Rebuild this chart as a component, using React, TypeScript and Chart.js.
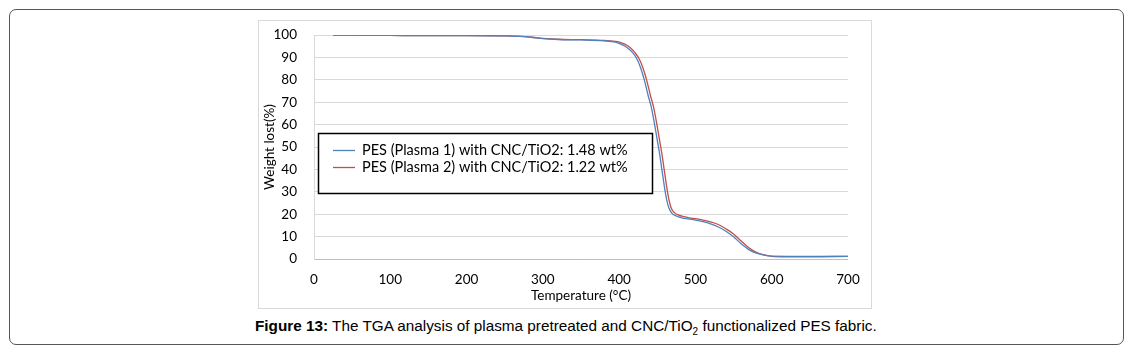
import React, { useEffect, useRef } from "react";
import { Chart, registerables } from "chart.js";

Chart.register(...registerables);

const seriesLabels = [
  "PES (Plasma 1) with CNC/TiO2: 1.48 wt%",
  "PES (Plasma 2) with CNC/TiO2: 1.22 wt%",
];
const seriesColors = ["#4F81BD", "#C0504D"];

const tempsP1 = [25, 50, 100, 150, 200, 250, 270, 285, 300, 320, 350, 380, 395, 405, 412, 418, 423, 428, 433, 438, 442, 446, 450, 453, 456, 459, 462, 465, 469, 475, 482, 490, 500, 510, 520, 530, 540, 550, 560, 570, 580, 590, 600, 650, 700];
const weightP1 = [100, 99.9, 99.8, 99.7, 99.7, 99.6, 99.4, 99.0, 98.4, 98.0, 97.8, 97.4, 96.8, 95.5, 94, 92, 89.5, 85.5, 80, 73, 68, 61, 53, 47, 40, 33, 27, 23, 20.5, 19.2, 18.4, 17.9, 17.4, 16.7, 15.7, 14.3, 12.4, 9.9, 6.8, 4.2, 2.6, 1.7, 1.3, 1.2, 1.2];

const tempsP2 = [25, 50, 100, 150, 200, 250, 270, 285, 300, 320, 350, 380, 398, 408, 415, 421, 426, 431, 436, 441, 445, 449, 453, 456, 459, 462, 465, 468, 472, 478, 485, 492, 500, 510, 520, 530, 540, 550, 560, 570, 580, 590, 600, 620, 650, 700];
const weightP2 = [100, 99.9, 99.8, 99.7, 99.7, 99.6, 99.4, 99.0, 98.5, 98.1, 97.9, 97.6, 97.0, 95.8, 94.2, 92, 89.5, 85.5, 80, 73, 68, 61, 53, 47, 40, 33, 27, 23, 20.8, 19.6, 18.9, 18.4, 18.0, 17.4, 16.6, 15.4, 13.5, 11.2, 8.0, 5.0, 3.0, 1.8, 1.2, 1.0, 1.0, 1.2];

const xTitle = "Temperature (°C)";
const yTitle = "Weight lost(%)";

const FONT = "Lato, 'Open Sans', sans-serif";

const legendPlugin = {
  id: "boxLegend",
  afterDatasetsDraw(chart: any) {
    const ctx = chart.ctx;
    const x0 = 59.5, y0 = 112.5, w = 334, h = 60;
    ctx.save();
    ctx.fillStyle = "#fff";
    ctx.fillRect(x0, y0, w, h);
    ctx.strokeStyle = "#000";
    ctx.lineWidth = 1.5;
    ctx.strokeRect(x0, y0, w, h);
    ctx.font = "14.5px " + FONT;
    ctx.textBaseline = "middle";
    chart.data.datasets.forEach((ds: any, i: number) => {
      const y = y0 + 17 + i * 17;
      ctx.strokeStyle = ds.borderColor;
      ctx.lineWidth = 1.3;
      ctx.beginPath();
      ctx.moveTo(74, y);
      ctx.lineTo(96, y);
      ctx.stroke();
      ctx.fillStyle = "#000";
      ctx.fillText(ds.label, 103, y);
    });
    ctx.restore();
  },
};

export default function App() {
  const ref = useRef<HTMLCanvasElement | null>(null);

  useEffect(() => {
    if (!ref.current) return;
    const chart = new Chart(ref.current, {
      type: "line",
      data: {
        datasets: [
          {
            label: seriesLabels[0],
            data: tempsP1.map((t, i) => ({ x: t, y: weightP1[i] })),
            borderColor: seriesColors[0],
            borderWidth: 1.3,
            pointRadius: 0,
            cubicInterpolationMode: "monotone",
          },
          {
            label: seriesLabels[1],
            data: tempsP2.map((t, i) => ({ x: t, y: weightP2[i] })),
            borderColor: seriesColors[1],
            borderWidth: 1.3,
            pointRadius: 0,
            cubicInterpolationMode: "monotone",
          },
        ],
      },
      options: {
        animation: false,
        responsive: false,
        devicePixelRatio: 1,
        layout: { padding: { left: 0, right: 23, top: 14, bottom: 0 } },
        plugins: { legend: { display: false }, tooltip: { enabled: false } },
        scales: {
          x: {
            type: "linear",
            min: 0,
            max: 700,
            ticks: { stepSize: 100, color: "#000", font: { family: FONT, size: 13.5 }, padding: 13, maxRotation: 0 },
            grid: { display: false, drawTicks: false },
            border: { display: false },
            title: { display: true, text: xTitle, color: "#000", font: { family: FONT, size: 13.5 }, padding: { top: 0, bottom: 4 } },
            afterFit: (s: any) => {
              s.height = 49;
              s.paddingLeft = 0;
              s.paddingRight = 0;
            },
          },
          y: {
            min: 0,
            max: 100,
            ticks: { stepSize: 10, color: "#000", font: { family: FONT, size: 13.5 }, padding: 17 },
            grid: {
              drawTicks: false,
              color: (c: any) => (c.tick && c.tick.value === 0 ? "#bfbfbf" : "#d9d9d9"),
            },
            border: { display: true, color: "#d9d9d9" },
            title: { display: true, text: yTitle, color: "#000", font: { family: FONT, size: 13.5 }, padding: { top: 3, bottom: 0 } },
            afterFit: (s: any) => {
              s.width = 55;
              s.paddingTop = 0;
              s.paddingBottom = 0;
            },
          },
        },
      },
      plugins: [legendPlugin],
    });
    return () => chart.destroy();
  }, []);

  return (
    <div style={{ position: "relative", width: 1119, height: 337 }}>
      <div
        style={{
          position: "absolute",
          left: 1,
          top: 1,
          width: 1115,
          height: 336,
          border: "1.5px solid #555",
          borderRadius: 7,
          boxSizing: "border-box",
        }}
      />
      <div
        style={{
          position: "absolute",
          left: 250,
          top: 12,
          width: 614,
          height: 289,
          border: "1px solid #d9d9d9",
          boxSizing: "border-box",
        }}
      />
      <canvas
        ref={ref}
        width={612}
        height={287}
        style={{ position: "absolute", left: 251, top: 13, width: 612, height: 287 }}
      />
      <div
        style={{
          position: "absolute",
          left: 247,
          top: 309,
          whiteSpace: "nowrap",
          fontFamily: "'Liberation Sans', Arial, sans-serif",
          fontSize: 15.3,
          color: "#000",
        }}
      >
        <b>Figure 13:</b> The TGA analysis of plasma pretreated and CNC/TiO<sub style={{ fontSize: 10 }}>2</sub> functionalized PES fabric.
      </div>
    </div>
  );
}
